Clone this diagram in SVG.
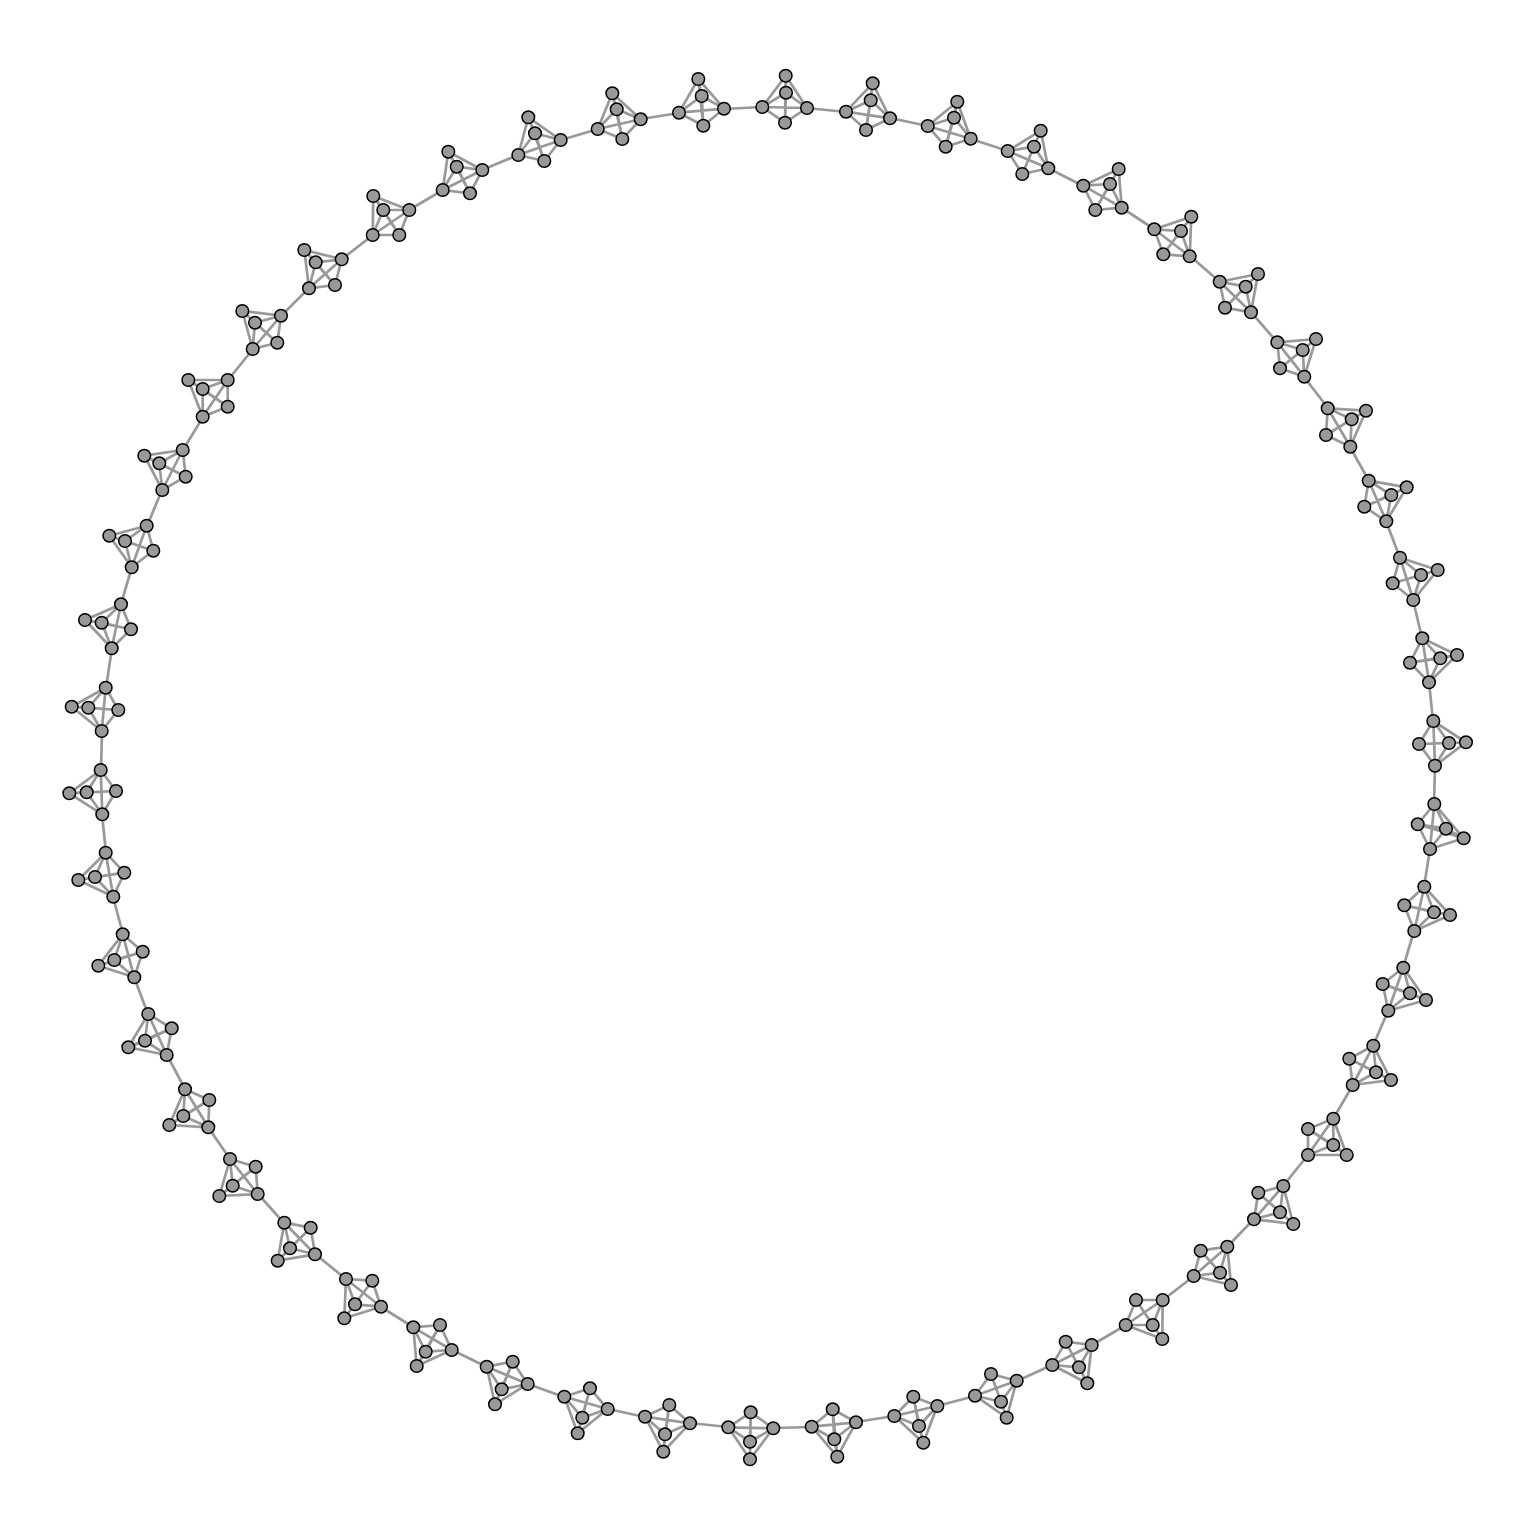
<svg xmlns="http://www.w3.org/2000/svg" width="1536" height="1536" viewBox="0 0 1536 1536">
<style>
.e{fill:none;stroke:#999;stroke-width:2.7;stroke-linejoin:round;stroke-linecap:round}
circle{fill:#999;stroke:#000;stroke-width:1.5}
</style>
<rect width="1536" height="1536" fill="#fff"/>
<g id="edges" class="e">
<path id="ring" d="M807,108L846,112M890,118L928,126M971,139L1008,151M1048,168L1083,186M1122,208L1154,229M1190,256L1220,282M1251,312L1277,342M1304,377L1328,408M1350,447L1369,481M1386,521L1400,558M1413,600L1422,638M1429,682L1433,721M1435,766L1434,804M1430,849L1424,887M1414,931L1403,968M1388,1011L1373,1046M1353,1085L1333,1119M1308,1155L1283,1186M1254,1219L1227,1247M1194,1276L1163,1300M1126,1325L1092,1345M1052,1365L1017,1381M975,1396L937,1406M894,1416L856,1422M812,1427L773,1428M728,1427L690,1423M645,1417L608,1409M564,1397L528,1384M487,1367L452,1350M413,1327L381,1307M346,1279L315,1254M284,1223L258,1194M230,1159L208,1127M185,1089L167,1055M148,1014L134,977M123,934L113,897M106,853L102,814M101,770L102,731M106,688L112,648M121,604L132,567M147,526L162,490M183,450L203,417M228,380L253,349M281,316L309,288M342,259L373,235M409,210L443,190M482,170L518,155M561,140L598,129M641,119L679,113M724,109L762,107"/>
<path d="M785.7,75.7L786,92.7L807,108L762.3,107L785,122.7L785.7,75.7L807,108L785,122.7L786,92.7L762.3,107L785.7,75.7"/>
<path d="M872.7,83.3L870.7,100.3L890,118.3L846,111.7L866,130L872.7,83.3L890,118.3L866,130L870.7,100.3L846,111.7L872.7,83.3"/>
<path d="M957.3,101.7L954,117.7L970.7,138.7L927.7,126L945.7,146.7L957.3,101.7L970.7,138.7L945.7,146.7L954,117.7L927.7,126L957.3,101.7"/>
<path d="M1040.7,130.7L1034,146.7L1048.3,168.3L1007.7,151L1022.3,174L1040.7,130.7L1048.3,168.3L1022.3,174L1034,146.7L1007.7,151L1040.7,130.7"/>
<path d="M1118.7,169L1110,184L1121.7,207.7L1083.3,185.7L1095.3,210L1118.7,169L1121.7,207.7L1095.3,210L1110,184L1083.3,185.7L1118.7,169"/>
<path d="M1191.3,216.7L1181,231L1189.7,256.3L1154.3,229.3L1163.3,254.3L1191.3,216.7L1189.7,256.3L1163.3,254.3L1181,231L1154.3,229.3L1191.3,216.7"/>
<path d="M1258,274L1245.7,286.7L1251,312.3L1219.7,281.7L1225,307.7L1258,274L1251,312.3L1225,307.7L1245.7,286.7L1219.7,281.7L1258,274"/>
<path d="M1316,339L1302.7,350L1304.3,376.7L1277.3,342.3L1280,368.3L1316,339L1304.3,376.7L1280,368.3L1302.7,350L1277.3,342.3L1316,339"/>
<path d="M1366,410.7L1351.7,419.3L1350.3,446.7L1327.7,408.3L1326,435L1366,410.7L1350.3,446.7L1326,435L1351.7,419.3L1327.7,408.3L1366,410.7"/>
<path d="M1406.7,487.3L1391.3,495L1386.3,521.3L1368.7,480.7L1364.3,506.7L1406.7,487.3L1386.3,521.3L1364.3,506.7L1391.3,495L1368.7,480.7L1406.7,487.3"/>
<path d="M1437.7,570L1421,575L1413.3,600L1400,557.7L1392.7,583.3L1437.7,570L1413.3,600L1392.7,583.3L1421,575L1400,557.7L1437.7,570"/>
<path d="M1457,655L1440.3,658.3L1429,682.3L1422.3,638.3L1410,662.7L1457,655L1429,682.3L1410,662.7L1440.3,658.3L1422.3,638.3L1457,655"/>
<path d="M1466,742.3L1449,743L1435,765.7L1433.3,721L1419,744L1466,742.3L1435,765.7L1419,744L1449,743L1433.3,721L1466,742.3"/>
<path d="M1463.7,838.3L1446,828.7L1430,849L1434.3,804L1417.7,824.3L1463.7,838.3L1430,849L1417.7,824.3L1446,828.7L1434.3,804L1463.7,838.3"/>
<path d="M1424.3,886.7L1404.3,905.3L1434,912.3L1450,915L1414.3,931L1424.3,886.7L1434,912.3L1414.3,931L1404.3,905.3L1450,915L1424.3,886.7"/>
<path d="M1403.3,967.7L1382.7,984L1410,993.3L1426,1000L1388.3,1010.7L1403.3,967.7L1410,993.3L1388.3,1010.7L1382.7,984L1426,1000L1403.3,967.7"/>
<path d="M1373.3,1045.7L1349.3,1058.7L1376,1072.3L1391,1080L1352.7,1085L1373.3,1045.7L1376,1072.3L1352.7,1085L1349.3,1058.7L1391,1080L1373.3,1045.7"/>
<path d="M1333.3,1118.7L1308,1129L1333.3,1145L1346.7,1155L1308,1155L1333.3,1118.7L1333.3,1145L1308,1155L1308,1129L1346.7,1155L1333.3,1118.7"/>
<path d="M1283.3,1186L1258.3,1192.7L1280,1212.3L1293.3,1224L1254,1219.3L1283.3,1186L1280,1212.3L1254,1219.3L1258.3,1192.7L1293.3,1224L1283.3,1186"/>
<path d="M1227.3,1246.7L1200.7,1250.7L1220,1272.7L1231,1285L1193.7,1276L1227.3,1246.7L1220,1272.7L1193.7,1276L1200.7,1250.7L1231,1285L1227.3,1246.7"/>
<path d="M1162.7,1300L1136,1300L1152.7,1325L1162.3,1339L1125.7,1325L1162.7,1300L1152.7,1325L1125.7,1325L1136,1300L1162.3,1339L1162.7,1300"/>
<path d="M1091.7,1345L1065.7,1341.7L1079,1367.3L1087.3,1383.3L1052.3,1365L1091.7,1345L1079,1367.3L1052.3,1365L1065.7,1341.7L1087.3,1383.3L1091.7,1345"/>
<path d="M1016.7,1380.7L991,1374L1001,1401.7L1006.7,1417.7L975,1395.7L1016.7,1380.7L1001,1401.7L975,1395.7L991,1374L1006.7,1417.7L1016.7,1380.7"/>
<path d="M937.3,1406L913.3,1396.7L919,1426L923.3,1442.7L894.3,1416L937.3,1406L919,1426L894.3,1416L913.3,1396.7L923.3,1442.7L937.3,1406"/>
<path d="M856,1422.3L832.7,1409.3L834.3,1439.3L837.3,1456.7L811.7,1426.7L856,1422.3L834.3,1439.3L811.7,1426.7L832.7,1409.3L837.3,1456.7L856,1422.3"/>
<path d="M773.3,1428.3L750.7,1412.3L750,1441.7L750,1459.3L728.3,1427.3L773.3,1428.3L750,1441.7L728.3,1427.3L750.7,1412.3L750,1459.3L773.3,1428.3"/>
<path d="M690,1423.3L669.3,1405L665,1434.3L663.3,1451.7L645,1416.7L690,1423.3L665,1434.3L645,1416.7L669.3,1405L663.3,1451.7L690,1423.3"/>
<path d="M607.7,1409L590,1388.3L582.3,1417.7L577.7,1433.3L564.3,1396.7L607.7,1409L582.3,1417.7L564.3,1396.7L590,1388.3L577.7,1433.3L607.7,1409"/>
<path d="M527.7,1384L512.7,1361.7L501.7,1389.3L495,1404.3L486.7,1366.7L527.7,1384L501.7,1389.3L486.7,1366.7L512.7,1361.7L495,1404.3L527.7,1384"/>
<path d="M451.7,1350L440,1325L425.7,1351.7L416.7,1366L413.3,1327.3L451.7,1350L425.7,1351.7L413.3,1327.3L440,1325L416.7,1366L451.7,1350"/>
<path d="M381,1306.7L372.3,1280.7L355,1304.3L344.3,1318.3L346,1279L381,1306.7L355,1304.3L346,1279L372.3,1280.7L344.3,1318.3L381,1306.7"/>
<path d="M315,1254.3L310.7,1227.7L290,1248.3L277.7,1260.7L284.3,1222.7L315,1254.3L290,1248.3L284.3,1222.7L310.7,1227.7L277.7,1260.7L315,1254.3"/>
<path d="M257.7,1194L255.7,1166.7L232.7,1185.7L219.3,1196L230,1159L257.7,1194L232.7,1185.7L230,1159L255.7,1166.7L219.3,1196L257.7,1194"/>
<path d="M208.3,1127.3L209.3,1100L183.3,1116L169.3,1125L185,1089.3L208.3,1127.3L183.3,1116L185,1089.3L209.3,1100L169.3,1125L208.3,1127.3"/>
<path d="M166.7,1055L171.7,1028.3L145,1040.7L128.3,1047.3L148.3,1014L166.7,1055L145,1040.7L148.3,1014L171.7,1028.3L128.3,1047.3L166.7,1055"/>
<path d="M134.3,977.3L142.7,951.7L114.3,960L98.3,965.7L122.7,934.3L134.3,977.3L114.3,960L122.7,934.3L142.7,951.7L98.3,965.7L134.3,977.3"/>
<path d="M113.3,896.7L124.3,872.7L95,877L78.3,880L105.7,852.7L113.3,896.7L95,877L105.7,852.7L124.3,872.7L78.3,880L113.3,896.7"/>
<path d="M102.3,814.3L116,791L86.7,792.3L69.3,793.3L100.7,770L102.3,814.3L86.7,792.3L100.7,770L116,791L69.3,793.3L102.3,814.3"/>
<path d="M101.7,731L118.3,710L88.3,707.7L71.7,706.7L105.7,687.7L101.7,731L88.3,707.7L105.7,687.7L118.3,710L71.7,706.7L101.7,731"/>
<path d="M111.7,648.3L131,629.3L101.7,622.7L85,620L121,604.3L111.7,648.3L101.7,622.7L121,604.3L131,629.3L85,620L111.7,648.3"/>
<path d="M131.7,567.3L153.3,550.7L125,541L109.3,535.7L146.7,525.7L131.7,567.3L125,541L146.7,525.7L153.3,550.7L109.3,535.7L131.7,567.3"/>
<path d="M162.3,490L185.7,476.7L159.3,463.3L144.3,455.7L182.7,450L162.3,490L159.3,463.3L182.7,450L185.7,476.7L144.3,455.7L162.3,490"/>
<path d="M202.7,416.7L227.7,406.7L202.7,389L188.3,380L227.7,380L202.7,416.7L202.7,389L227.7,380L227.7,406.7L188.3,380L202.7,416.7"/>
<path d="M252.7,349L277.3,342.7L255,322.7L242.3,311L281,315.7L252.7,349L255,322.7L281,315.7L277.3,342.7L242.3,311L252.7,349"/>
<path d="M309,288.3L335,285L315.7,262.3L304.3,250L341.7,259.3L309,288.3L315.7,262.3L341.7,259.3L335,285L304.3,250L309,288.3"/>
<path d="M372.7,235L399.3,235L383.3,210L373.3,196L409.3,210L372.7,235L383.3,210L409.3,210L399.3,235L373.3,196L372.7,235"/>
<path d="M442.7,190L470,193.3L456.7,166.7L448.3,151.7L482.3,170L442.7,190L456.7,166.7L482.3,170L470,193.3L448.3,151.7L442.7,190"/>
<path d="M528.3,117.3L535,133.3L560.7,140L518.3,155L544.3,161L528.3,117.3L560.7,140L544.3,161L535,133.3L518.3,155L528.3,117.3"/>
<path d="M612.3,93.3L616.7,109.3L640.7,119.3L597.7,129L622.3,139L612.3,93.3L640.7,119.3L622.3,139L616.7,109.3L597.7,129L612.3,93.3"/>
<path d="M698.3,79L701.7,96L724,108.7L679,112.7L703.3,125.7L698.3,79L724,108.7L703.3,125.7L701.7,96L679,112.7L698.3,79"/>
</g>
<g id="nodes">
<g id="c1"><circle id="n1a" cx="785.7" cy="75.7" r="6.3"/><circle id="n1b" cx="786" cy="92.7" r="6.3"/><circle id="n1c" cx="807" cy="108" r="6.3"/><circle id="n1d" cx="762.3" cy="107" r="6.3"/><circle id="n1e" cx="785" cy="122.7" r="6.3"/></g>
<g id="c2"><circle id="n2a" cx="872.7" cy="83.3" r="6.3"/><circle id="n2b" cx="870.7" cy="100.3" r="6.3"/><circle id="n2c" cx="890" cy="118.3" r="6.3"/><circle id="n2d" cx="846" cy="111.7" r="6.3"/><circle id="n2e" cx="866" cy="130" r="6.3"/></g>
<g id="c3"><circle id="n3a" cx="957.3" cy="101.7" r="6.3"/><circle id="n3b" cx="954" cy="117.7" r="6.3"/><circle id="n3c" cx="970.7" cy="138.7" r="6.3"/><circle id="n3d" cx="927.7" cy="126" r="6.3"/><circle id="n3e" cx="945.7" cy="146.7" r="6.3"/></g>
<g id="c4"><circle id="n4a" cx="1040.7" cy="130.7" r="6.3"/><circle id="n4b" cx="1034" cy="146.7" r="6.3"/><circle id="n4c" cx="1048.3" cy="168.3" r="6.3"/><circle id="n4d" cx="1007.7" cy="151" r="6.3"/><circle id="n4e" cx="1022.3" cy="174" r="6.3"/></g>
<g id="c5"><circle id="n5a" cx="1118.7" cy="169" r="6.3"/><circle id="n5b" cx="1110" cy="184" r="6.3"/><circle id="n5c" cx="1121.7" cy="207.7" r="6.3"/><circle id="n5d" cx="1083.3" cy="185.7" r="6.3"/><circle id="n5e" cx="1095.3" cy="210" r="6.3"/></g>
<g id="c6"><circle id="n6a" cx="1191.3" cy="216.7" r="6.3"/><circle id="n6b" cx="1181" cy="231" r="6.3"/><circle id="n6c" cx="1189.7" cy="256.3" r="6.3"/><circle id="n6d" cx="1154.3" cy="229.3" r="6.3"/><circle id="n6e" cx="1163.3" cy="254.3" r="6.3"/></g>
<g id="c7"><circle id="n7a" cx="1258" cy="274" r="6.3"/><circle id="n7b" cx="1245.7" cy="286.7" r="6.3"/><circle id="n7c" cx="1251" cy="312.3" r="6.3"/><circle id="n7d" cx="1219.7" cy="281.7" r="6.3"/><circle id="n7e" cx="1225" cy="307.7" r="6.3"/></g>
<g id="c8"><circle id="n8a" cx="1316" cy="339" r="6.3"/><circle id="n8b" cx="1302.7" cy="350" r="6.3"/><circle id="n8c" cx="1304.3" cy="376.7" r="6.3"/><circle id="n8d" cx="1277.3" cy="342.3" r="6.3"/><circle id="n8e" cx="1280" cy="368.3" r="6.3"/></g>
<g id="c9"><circle id="n9a" cx="1366" cy="410.7" r="6.3"/><circle id="n9b" cx="1351.7" cy="419.3" r="6.3"/><circle id="n9c" cx="1350.3" cy="446.7" r="6.3"/><circle id="n9d" cx="1327.7" cy="408.3" r="6.3"/><circle id="n9e" cx="1326" cy="435" r="6.3"/></g>
<g id="c10"><circle id="n10a" cx="1406.7" cy="487.3" r="6.3"/><circle id="n10b" cx="1391.3" cy="495" r="6.3"/><circle id="n10c" cx="1386.3" cy="521.3" r="6.3"/><circle id="n10d" cx="1368.7" cy="480.7" r="6.3"/><circle id="n10e" cx="1364.3" cy="506.7" r="6.3"/></g>
<g id="c11"><circle id="n11a" cx="1437.7" cy="570" r="6.3"/><circle id="n11b" cx="1421" cy="575" r="6.3"/><circle id="n11c" cx="1413.3" cy="600" r="6.3"/><circle id="n11d" cx="1400" cy="557.7" r="6.3"/><circle id="n11e" cx="1392.7" cy="583.3" r="6.3"/></g>
<g id="c12"><circle id="n12a" cx="1457" cy="655" r="6.3"/><circle id="n12b" cx="1440.3" cy="658.3" r="6.3"/><circle id="n12c" cx="1429" cy="682.3" r="6.3"/><circle id="n12d" cx="1422.3" cy="638.3" r="6.3"/><circle id="n12e" cx="1410" cy="662.7" r="6.3"/></g>
<g id="c13"><circle id="n13a" cx="1466" cy="742.3" r="6.3"/><circle id="n13b" cx="1449" cy="743" r="6.3"/><circle id="n13c" cx="1435" cy="765.7" r="6.3"/><circle id="n13d" cx="1433.3" cy="721" r="6.3"/><circle id="n13e" cx="1419" cy="744" r="6.3"/></g>
<g id="c14"><circle id="n14a" cx="1463.7" cy="838.3" r="6.3"/><circle id="n14b" cx="1446" cy="828.7" r="6.3"/><circle id="n14c" cx="1430" cy="849" r="6.3"/><circle id="n14d" cx="1434.3" cy="804" r="6.3"/><circle id="n14e" cx="1417.7" cy="824.3" r="6.3"/></g>
<g id="c15"><circle id="n15a" cx="1424.3" cy="886.7" r="6.3"/><circle id="n15b" cx="1404.3" cy="905.3" r="6.3"/><circle id="n15c" cx="1434" cy="912.3" r="6.3"/><circle id="n15d" cx="1450" cy="915" r="6.3"/><circle id="n15e" cx="1414.3" cy="931" r="6.3"/></g>
<g id="c16"><circle id="n16a" cx="1403.3" cy="967.7" r="6.3"/><circle id="n16b" cx="1382.7" cy="984" r="6.3"/><circle id="n16c" cx="1410" cy="993.3" r="6.3"/><circle id="n16d" cx="1426" cy="1000" r="6.3"/><circle id="n16e" cx="1388.3" cy="1010.7" r="6.3"/></g>
<g id="c17"><circle id="n17a" cx="1373.3" cy="1045.7" r="6.3"/><circle id="n17b" cx="1349.3" cy="1058.7" r="6.3"/><circle id="n17c" cx="1376" cy="1072.3" r="6.3"/><circle id="n17d" cx="1391" cy="1080" r="6.3"/><circle id="n17e" cx="1352.7" cy="1085" r="6.3"/></g>
<g id="c18"><circle id="n18a" cx="1333.3" cy="1118.7" r="6.3"/><circle id="n18b" cx="1308" cy="1129" r="6.3"/><circle id="n18c" cx="1333.3" cy="1145" r="6.3"/><circle id="n18d" cx="1346.7" cy="1155" r="6.3"/><circle id="n18e" cx="1308" cy="1155" r="6.3"/></g>
<g id="c19"><circle id="n19a" cx="1283.3" cy="1186" r="6.3"/><circle id="n19b" cx="1258.3" cy="1192.7" r="6.3"/><circle id="n19c" cx="1280" cy="1212.3" r="6.3"/><circle id="n19d" cx="1293.3" cy="1224" r="6.3"/><circle id="n19e" cx="1254" cy="1219.3" r="6.3"/></g>
<g id="c20"><circle id="n20a" cx="1227.3" cy="1246.7" r="6.3"/><circle id="n20b" cx="1200.7" cy="1250.7" r="6.3"/><circle id="n20c" cx="1220" cy="1272.7" r="6.3"/><circle id="n20d" cx="1231" cy="1285" r="6.3"/><circle id="n20e" cx="1193.7" cy="1276" r="6.3"/></g>
<g id="c21"><circle id="n21a" cx="1162.7" cy="1300" r="6.3"/><circle id="n21b" cx="1136" cy="1300" r="6.3"/><circle id="n21c" cx="1152.7" cy="1325" r="6.3"/><circle id="n21d" cx="1162.3" cy="1339" r="6.3"/><circle id="n21e" cx="1125.7" cy="1325" r="6.3"/></g>
<g id="c22"><circle id="n22a" cx="1091.7" cy="1345" r="6.3"/><circle id="n22b" cx="1065.7" cy="1341.7" r="6.3"/><circle id="n22c" cx="1079" cy="1367.3" r="6.3"/><circle id="n22d" cx="1087.3" cy="1383.3" r="6.3"/><circle id="n22e" cx="1052.3" cy="1365" r="6.3"/></g>
<g id="c23"><circle id="n23a" cx="1016.7" cy="1380.7" r="6.3"/><circle id="n23b" cx="991" cy="1374" r="6.3"/><circle id="n23c" cx="1001" cy="1401.7" r="6.3"/><circle id="n23d" cx="1006.7" cy="1417.7" r="6.3"/><circle id="n23e" cx="975" cy="1395.7" r="6.3"/></g>
<g id="c24"><circle id="n24a" cx="937.3" cy="1406" r="6.3"/><circle id="n24b" cx="913.3" cy="1396.7" r="6.3"/><circle id="n24c" cx="919" cy="1426" r="6.3"/><circle id="n24d" cx="923.3" cy="1442.7" r="6.3"/><circle id="n24e" cx="894.3" cy="1416" r="6.3"/></g>
<g id="c25"><circle id="n25a" cx="856" cy="1422.3" r="6.3"/><circle id="n25b" cx="832.7" cy="1409.3" r="6.3"/><circle id="n25c" cx="834.3" cy="1439.3" r="6.3"/><circle id="n25d" cx="837.3" cy="1456.7" r="6.3"/><circle id="n25e" cx="811.7" cy="1426.7" r="6.3"/></g>
<g id="c26"><circle id="n26a" cx="773.3" cy="1428.3" r="6.3"/><circle id="n26b" cx="750.7" cy="1412.3" r="6.3"/><circle id="n26c" cx="750" cy="1441.7" r="6.3"/><circle id="n26d" cx="750" cy="1459.3" r="6.3"/><circle id="n26e" cx="728.3" cy="1427.3" r="6.3"/></g>
<g id="c27"><circle id="n27a" cx="690" cy="1423.3" r="6.3"/><circle id="n27b" cx="669.3" cy="1405" r="6.3"/><circle id="n27c" cx="665" cy="1434.3" r="6.3"/><circle id="n27d" cx="663.3" cy="1451.7" r="6.3"/><circle id="n27e" cx="645" cy="1416.7" r="6.3"/></g>
<g id="c28"><circle id="n28a" cx="607.7" cy="1409" r="6.3"/><circle id="n28b" cx="590" cy="1388.3" r="6.3"/><circle id="n28c" cx="582.3" cy="1417.7" r="6.3"/><circle id="n28d" cx="577.7" cy="1433.3" r="6.3"/><circle id="n28e" cx="564.3" cy="1396.7" r="6.3"/></g>
<g id="c29"><circle id="n29a" cx="527.7" cy="1384" r="6.3"/><circle id="n29b" cx="512.7" cy="1361.7" r="6.3"/><circle id="n29c" cx="501.7" cy="1389.3" r="6.3"/><circle id="n29d" cx="495" cy="1404.3" r="6.3"/><circle id="n29e" cx="486.7" cy="1366.7" r="6.3"/></g>
<g id="c30"><circle id="n30a" cx="451.7" cy="1350" r="6.3"/><circle id="n30b" cx="440" cy="1325" r="6.3"/><circle id="n30c" cx="425.7" cy="1351.7" r="6.3"/><circle id="n30d" cx="416.7" cy="1366" r="6.3"/><circle id="n30e" cx="413.3" cy="1327.3" r="6.3"/></g>
<g id="c31"><circle id="n31a" cx="381" cy="1306.7" r="6.3"/><circle id="n31b" cx="372.3" cy="1280.7" r="6.3"/><circle id="n31c" cx="355" cy="1304.3" r="6.3"/><circle id="n31d" cx="344.3" cy="1318.3" r="6.3"/><circle id="n31e" cx="346" cy="1279" r="6.3"/></g>
<g id="c32"><circle id="n32a" cx="315" cy="1254.3" r="6.3"/><circle id="n32b" cx="310.7" cy="1227.7" r="6.3"/><circle id="n32c" cx="290" cy="1248.3" r="6.3"/><circle id="n32d" cx="277.7" cy="1260.7" r="6.3"/><circle id="n32e" cx="284.3" cy="1222.7" r="6.3"/></g>
<g id="c33"><circle id="n33a" cx="257.7" cy="1194" r="6.3"/><circle id="n33b" cx="255.7" cy="1166.7" r="6.3"/><circle id="n33c" cx="232.7" cy="1185.7" r="6.3"/><circle id="n33d" cx="219.3" cy="1196" r="6.3"/><circle id="n33e" cx="230" cy="1159" r="6.3"/></g>
<g id="c34"><circle id="n34a" cx="208.3" cy="1127.3" r="6.3"/><circle id="n34b" cx="209.3" cy="1100" r="6.3"/><circle id="n34c" cx="183.3" cy="1116" r="6.3"/><circle id="n34d" cx="169.3" cy="1125" r="6.3"/><circle id="n34e" cx="185" cy="1089.3" r="6.3"/></g>
<g id="c35"><circle id="n35a" cx="166.7" cy="1055" r="6.3"/><circle id="n35b" cx="171.7" cy="1028.3" r="6.3"/><circle id="n35c" cx="145" cy="1040.7" r="6.3"/><circle id="n35d" cx="128.3" cy="1047.3" r="6.3"/><circle id="n35e" cx="148.3" cy="1014" r="6.3"/></g>
<g id="c36"><circle id="n36a" cx="134.3" cy="977.3" r="6.3"/><circle id="n36b" cx="142.7" cy="951.7" r="6.3"/><circle id="n36c" cx="114.3" cy="960" r="6.3"/><circle id="n36d" cx="98.3" cy="965.7" r="6.3"/><circle id="n36e" cx="122.7" cy="934.3" r="6.3"/></g>
<g id="c37"><circle id="n37a" cx="113.3" cy="896.7" r="6.3"/><circle id="n37b" cx="124.3" cy="872.7" r="6.3"/><circle id="n37c" cx="95" cy="877" r="6.3"/><circle id="n37d" cx="78.3" cy="880" r="6.3"/><circle id="n37e" cx="105.7" cy="852.7" r="6.3"/></g>
<g id="c38"><circle id="n38a" cx="102.3" cy="814.3" r="6.3"/><circle id="n38b" cx="116" cy="791" r="6.3"/><circle id="n38c" cx="86.7" cy="792.3" r="6.3"/><circle id="n38d" cx="69.3" cy="793.3" r="6.3"/><circle id="n38e" cx="100.7" cy="770" r="6.3"/></g>
<g id="c39"><circle id="n39a" cx="101.7" cy="731" r="6.3"/><circle id="n39b" cx="118.3" cy="710" r="6.3"/><circle id="n39c" cx="88.3" cy="707.7" r="6.3"/><circle id="n39d" cx="71.7" cy="706.7" r="6.3"/><circle id="n39e" cx="105.7" cy="687.7" r="6.3"/></g>
<g id="c40"><circle id="n40a" cx="111.7" cy="648.3" r="6.3"/><circle id="n40b" cx="131" cy="629.3" r="6.3"/><circle id="n40c" cx="101.7" cy="622.7" r="6.3"/><circle id="n40d" cx="85" cy="620" r="6.3"/><circle id="n40e" cx="121" cy="604.3" r="6.3"/></g>
<g id="c41"><circle id="n41a" cx="131.7" cy="567.3" r="6.3"/><circle id="n41b" cx="153.3" cy="550.7" r="6.3"/><circle id="n41c" cx="125" cy="541" r="6.3"/><circle id="n41d" cx="109.3" cy="535.7" r="6.3"/><circle id="n41e" cx="146.7" cy="525.7" r="6.3"/></g>
<g id="c42"><circle id="n42a" cx="162.3" cy="490" r="6.3"/><circle id="n42b" cx="185.7" cy="476.7" r="6.3"/><circle id="n42c" cx="159.3" cy="463.3" r="6.3"/><circle id="n42d" cx="144.3" cy="455.7" r="6.3"/><circle id="n42e" cx="182.7" cy="450" r="6.3"/></g>
<g id="c43"><circle id="n43a" cx="202.7" cy="416.7" r="6.3"/><circle id="n43b" cx="227.7" cy="406.7" r="6.3"/><circle id="n43c" cx="202.7" cy="389" r="6.3"/><circle id="n43d" cx="188.3" cy="380" r="6.3"/><circle id="n43e" cx="227.7" cy="380" r="6.3"/></g>
<g id="c44"><circle id="n44a" cx="252.7" cy="349" r="6.3"/><circle id="n44b" cx="277.3" cy="342.7" r="6.3"/><circle id="n44c" cx="255" cy="322.7" r="6.3"/><circle id="n44d" cx="242.3" cy="311" r="6.3"/><circle id="n44e" cx="281" cy="315.7" r="6.3"/></g>
<g id="c45"><circle id="n45a" cx="309" cy="288.3" r="6.3"/><circle id="n45b" cx="335" cy="285" r="6.3"/><circle id="n45c" cx="315.7" cy="262.3" r="6.3"/><circle id="n45d" cx="304.3" cy="250" r="6.3"/><circle id="n45e" cx="341.7" cy="259.3" r="6.3"/></g>
<g id="c46"><circle id="n46a" cx="372.7" cy="235" r="6.3"/><circle id="n46b" cx="399.3" cy="235" r="6.3"/><circle id="n46c" cx="383.3" cy="210" r="6.3"/><circle id="n46d" cx="373.3" cy="196" r="6.3"/><circle id="n46e" cx="409.3" cy="210" r="6.3"/></g>
<g id="c47"><circle id="n47a" cx="442.7" cy="190" r="6.3"/><circle id="n47b" cx="470" cy="193.3" r="6.3"/><circle id="n47c" cx="456.7" cy="166.7" r="6.3"/><circle id="n47d" cx="448.3" cy="151.7" r="6.3"/><circle id="n47e" cx="482.3" cy="170" r="6.3"/></g>
<g id="c48"><circle id="n48a" cx="528.3" cy="117.3" r="6.3"/><circle id="n48b" cx="535" cy="133.3" r="6.3"/><circle id="n48c" cx="560.7" cy="140" r="6.3"/><circle id="n48d" cx="518.3" cy="155" r="6.3"/><circle id="n48e" cx="544.3" cy="161" r="6.3"/></g>
<g id="c49"><circle id="n49a" cx="612.3" cy="93.3" r="6.3"/><circle id="n49b" cx="616.7" cy="109.3" r="6.3"/><circle id="n49c" cx="640.7" cy="119.3" r="6.3"/><circle id="n49d" cx="597.7" cy="129" r="6.3"/><circle id="n49e" cx="622.3" cy="139" r="6.3"/></g>
<g id="c50"><circle id="n50a" cx="698.3" cy="79" r="6.3"/><circle id="n50b" cx="701.7" cy="96" r="6.3"/><circle id="n50c" cx="724" cy="108.7" r="6.3"/><circle id="n50d" cx="679" cy="112.7" r="6.3"/><circle id="n50e" cx="703.3" cy="125.7" r="6.3"/></g>
</g>
</svg>
